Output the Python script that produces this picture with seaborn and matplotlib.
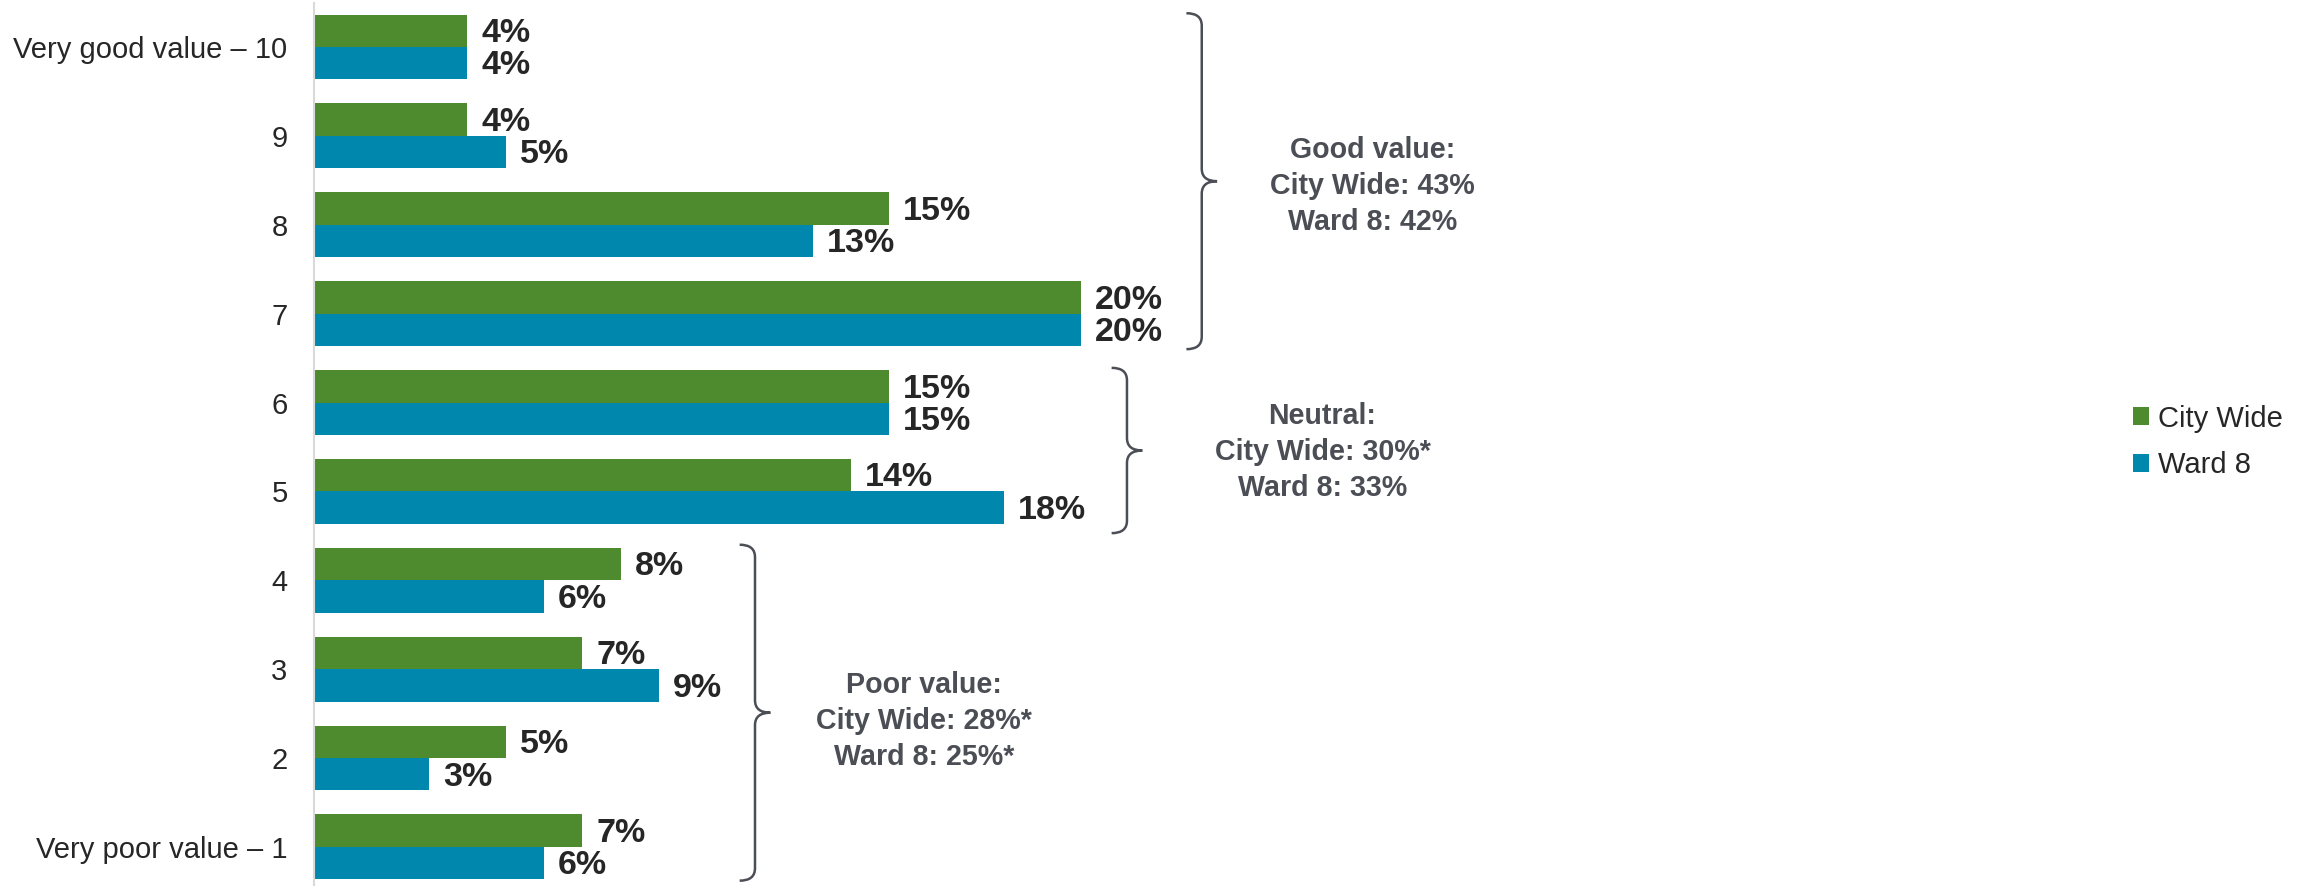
import pandas as pd
import matplotlib.pyplot as plt
import seaborn as sns
from matplotlib.path import Path
from matplotlib.patches import PathPatch

# Data
ratings = ["Very good value \u2013 10", "9", "8", "7", "6", "5", "4", "3", "2", "Very poor value \u2013 1"]
city_wide = [4, 4, 15, 20, 15, 14, 8, 7, 5, 7]
ward_8 = [4, 5, 13, 20, 15, 18, 6, 9, 3, 6]
groups = ["City Wide", "Ward 8"]
colors = ["#4e8b2e", "#0087ae"]

summary_text = [
    "Good value:\nCity Wide: 43%\nWard 8: 42%",
    "Neutral:\nCity Wide: 30%*\nWard 8: 33%",
    "Poor value:\nCity Wide: 28%*\nWard 8: 25%*",
]

df = pd.DataFrame({
    "rating": ratings * 2,
    "pct": city_wide + ward_8,
    "group": [groups[0]] * len(ratings) + [groups[1]] * len(ratings),
})

sns.set_theme(style="white")
plt.rcParams["font.family"] = ["Liberation Sans", "DejaVu Sans"]

fig = plt.figure(figsize=(23.1, 8.86), dpi=100)
ax = fig.add_axes([314 / 2310, 0, 1 - 314 / 2310, 883 / 886])

sns.barplot(
    data=df,
    x="pct",
    y="rating",
    hue="group",
    order=ratings,
    hue_order=groups,
    palette=colors,
    orient="h",
    width=0.73,
    saturation=1,
    linewidth=0,
    ax=ax,
)

# value labels, nudged a little down to sit centred like the original
for c in ax.containers:
    for t in ax.bar_label(c, fmt="%d%%", padding=10, fontsize=24.5,
                          fontweight="bold", color="#262626"):
        t.xyann = (10, -2)

ax.set_xlim(0, 52.05)
ax.set_ylim(9.44, -0.495)
ax.set_xlabel("")
ax.set_ylabel("")
ax.set_xticks([])
ax.tick_params(axis="y", length=0, pad=19, labelsize=21, labelcolor="#262626")
for s in ["top", "right", "bottom"]:
    ax.spines[s].set_visible(False)
ax.spines["left"].set_color("#d9d9d9")
ax.spines["left"].set_linewidth(1.5)


def brace(ax, x, y0, y1, w=0.4, r=0.14):
    ym = (y0 + y1) / 2
    verts = [
        (x - w, y0), (x, y0), (x, y0 + r),
        (x, ym - r), (x, ym), (x + w, ym),
        (x, ym), (x, ym + r),
        (x, y1 - r), (x, y1), (x - w, y1),
    ]
    codes = [
        Path.MOVETO, Path.CURVE3, Path.CURVE3,
        Path.LINETO, Path.CURVE3, Path.CURVE3,
        Path.CURVE3, Path.CURVE3,
        Path.LINETO, Path.CURVE3, Path.CURVE3,
    ]
    ax.add_patch(PathPatch(Path(verts, codes), fill=False, edgecolor="#4b4e55",
                           linewidth=1.8, clip_on=False))


brace(ax, 23.15, -0.38, 3.4)
brace(ax, 21.2, 3.61, 5.47)
brace(ax, 11.5, 5.6, 9.38)

txt = dict(ha="center", va="center", fontsize=20.6, fontweight="bold",
           color="#4b4e55", linespacing=1.36)
ax.text(27.6, 1.56, summary_text[0], **txt)
ax.text(26.3, 4.56, summary_text[1], **txt)
ax.text(15.9, 7.58, summary_text[2], **txt)

handles, labels = ax.get_legend_handles_labels()
ax.get_legend().remove()
fig.legend(handles, labels, loc="center left", bbox_to_anchor=(2133 / 2310, 1 - 442 / 886),
           frameon=False, fontsize=21, labelcolor="#262626", borderpad=0, borderaxespad=0,
           handlelength=0.55, handleheight=0.55, handletextpad=0.3, labelspacing=0.65)

plt.savefig("out.png", dpi=100)
